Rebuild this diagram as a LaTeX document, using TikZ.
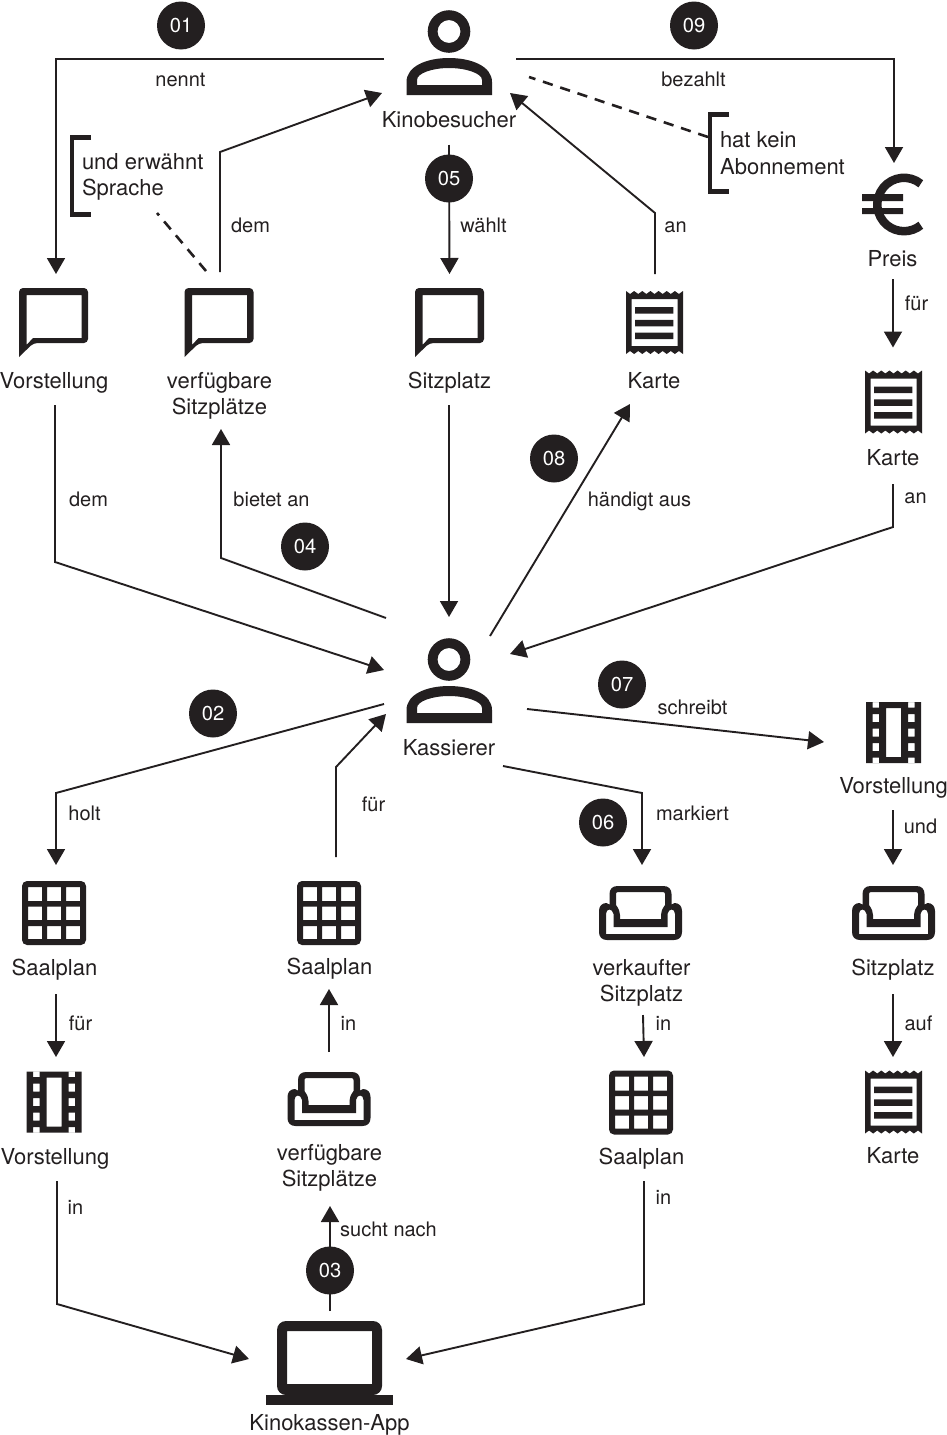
\documentclass[tikz,border=0pt]{standalone}
\usepackage{fontspec}
\setmainfont{TeX Gyre Heros}
\usetikzlibrary{arrows.meta}
\definecolor{ink}{HTML}{231F20}
\newcommand{\iconat}[4]{\node[hub] (#1) at (#2,#3) {}; \pic at (#1.center) {#4};}
\tikzset{
  x=1pt, y=-1pt,
  hub/.style={inner sep=0pt, outer sep=0pt, minimum size=0pt},
  name label/.style={inner sep=0pt, outer sep=0pt, anchor=base, text=ink, font=\fontsize{22}{26}\selectfont},
  two lines/.style={inner sep=0pt, outer sep=0pt, anchor=center, align=center, text=ink, font=\fontsize{22}{26}\selectfont},
  note text/.style={inner sep=0pt, outer sep=0pt, anchor=base west, text=ink, font=\fontsize{22}{26}\selectfont},
  edge label/.style={inner sep=0pt, outer sep=0pt, anchor=base, xshift=0.5pt, text=ink, font=\fontsize{20}{24}\selectfont},
  badge/.style={circle, fill=ink, text=white, minimum size=48pt, inner sep=0pt, yshift=-0.5pt, font=\fontsize{20.2}{24}\selectfont},
  link/.style={draw=ink, line width=1.9pt, line join=miter},
  arrowed/.style={link, -{Triangle[length=16pt,width=18pt]}},
  dashline/.style={draw=ink, line width=2.6pt, dash pattern=on 10.3pt off 7.9pt},
  pics/person/.style={code={
    \fill[ink, even odd rule] (0,-28.5) circle[radius=21.3pt] (0,-28.5) circle[radius=11.5pt];
    \fill[ink, even odd rule]
      (-42.5,35) -- (-42.5,22) .. controls (-42.5,6) and (-22,-2) .. (0,-2)
      .. controls (22,-2) and (43,6) .. (43,22) -- (43,35) -- cycle
      (-32,25) -- (-32,20) .. controls (-32,13) and (-16,8) .. (0,8)
      .. controls (16,8) and (33,13) .. (33,20) -- (33,25) -- cycle;
  }},
  pics/bubble/.style={code={
    \fill[ink, even odd rule]
      [rounded corners=4pt] (-34.5,35) -- (-34.5,-34) -- (34.5,-34) -- (34.5,21) -- (-20,21) [sharp corners] -- cycle
      [sharp corners] (-27,-27) -- (28,-27) -- (28,16) -- (-20.5,16) -- (-27,23) -- cycle;
  }},
  pics/receipt/.style={code={
    \fill[ink, even odd rule]
      (-28.5,-31.5) -- (-24.43,-28.5) -- (-20.36,-31.5) -- (-16.29,-28.5) -- (-12.21,-31.5) -- (-8.14,-28.5) -- (-4.07,-31.5) -- (0,-28.5)
      -- (4.07,-31.5) -- (8.14,-28.5) -- (12.21,-31.5) -- (16.29,-28.5) -- (20.36,-31.5) -- (24.43,-28.5) -- (28.5,-31.5)
      -- (28.5,31.5) -- (24.43,28.5) -- (20.36,31.5) -- (16.29,28.5) -- (12.21,31.5) -- (8.14,28.5) -- (4.07,31.5) -- (0,28.5)
      -- (-4.07,31.5) -- (-8.14,28.5) -- (-12.21,31.5) -- (-16.29,28.5) -- (-20.36,31.5) -- (-24.43,28.5) -- (-28.5,31.5) -- cycle
      (-23,-23.5) rectangle (23,23.5);
    \fill[ink] (-19.5,-15.5) rectangle (18.8,-9) (-19.5,-2.7) rectangle (18.8,3.8) (-19.5,10.2) rectangle (18.8,16.7);
  }},
  pics/euro/.style={code={
    \draw[ink, line width=8.5pt] (27.8,-20.75) arc[start angle=51, end angle=309, radius=26.7pt];
    \fill[ink] (-31,-10.5) rectangle (10,-3.5) (-31,3.5) rectangle (10,9.7);
  }},
  pics/film/.style={code={
    \fill[ink, even odd rule]
      (-27.5,-30.5) rectangle (27.5,30.5)
      (-7.5,-24.5) rectangle (7.5,24.5)
      (-21,-30.5) rectangle (-14.5,-25) (14.5,-30.5) rectangle (21,-25)
      (-21,-18.5) rectangle (-14.5,-10.5) (14.5,-18.5) rectangle (21,-10.5)
      (-21,-4) rectangle (-14.5,4) (14.5,-4) rectangle (21,4)
      (-21,10.5) rectangle (-14.5,18.5) (14.5,10.5) rectangle (21,18.5)
      (-21,25) rectangle (-14.5,30.5) (14.5,25) rectangle (21,30.5);
  }},
  pics/sofa/.style={code={
    \fill[ink, even odd rule]
      (-31,-8.5) -- (-31,-19) .. controls (-31,-24) and (-28,-27) .. (-23,-27)
      -- (23,-27) .. controls (28,-27) and (31,-24) .. (31,-19) -- (31,-8.5)
      .. controls (32,-9.5) and (33,-10) .. (34,-10) .. controls (38.5,-10) and (41.5,-7) .. (41.5,-2)
      -- (41.5,19) .. controls (41.5,24) and (38.5,27) .. (33.5,27)
      -- (-33.5,27) .. controls (-38.5,27) and (-41.5,24) .. (-41.5,19)
      -- (-41.5,-2) .. controls (-41.5,-7) and (-38.5,-10) .. (-34,-10)
      .. controls (-33,-10) and (-32,-9.5) .. (-31,-8.5) -- cycle
      (-22.5,-21) -- (22.5,-21) .. controls (24,-21) and (24.5,-20) .. (24.5,-19) -- (24.5,-8)
      .. controls (21.5,-4) and (20.5,-1) .. (20.5,2) -- (20.5,6) -- (-20.5,6) -- (-20.5,2)
      .. controls (-20.5,-1) and (-21.5,-4) .. (-24.5,-8) -- (-24.5,-19)
      .. controls (-24.5,-20) and (-24,-21) .. (-22.5,-21) -- cycle
      (-34.5,21) -- (34.5,21) -- (34.5,1) .. controls (34.5,-5) and (28,-5) .. (27,1)
      -- (27,14) -- (-27,14) -- (-27,1) .. controls (-28,-5) and (-34.5,-5) .. (-34.5,1) -- cycle;
  }},
  pics/grid/.style={code={
    \fill[ink, even odd rule]
      [rounded corners=5pt] (-32,-32) rectangle (32,32) [sharp corners]
      (-26,-26) rectangle (-12,-12) (-7,-26) rectangle (7,-12) (12,-26) rectangle (26,-12)
      (-26,-6.5) rectangle (-12,7) (-7,-6.5) rectangle (7,7) (12,-6.5) rectangle (26,7)
      (-26,13) rectangle (-12,26) (-7,13) rectangle (7,26) (12,13) rectangle (26,26);
  }},
  pics/laptop/.style={code={
    \fill[ink, even odd rule]
      [rounded corners=9pt] (-52.5,32) -- (-52.5,-42) -- (52.5,-42) -- (52.5,32) -- cycle [sharp corners]
      (-42.5,-32) rectangle (42.5,21);
    \fill[ink] (-63.5,32) rectangle (63.5,42);
  }},
  pics/bracket/.style={code={
    \draw[ink, line width=4.5pt, line cap=butt] (18.8,-38.7) -- (0,-38.7) -- (0,38.7) -- (18.8,38.7);
  }},
}
\begin{document}
\begin{tikzpicture}
\useasboundingbox (0,0) rectangle (947,1435);

% actors and the system
\iconat{visitor}{449}{60}{person}
\iconat{cashier}{449}{688}{person}
\iconat{app}{329.5}{1363}{laptop}

% notes in square brackets
\iconat{noteA}{710.2}{153}{bracket}
\iconat{noteB}{72.2}{176}{bracket}

% upper row
\iconat{sayShow}{53.5}{322}{bubble}
\iconat{saySeats}{219}{322}{bubble}
\iconat{saySeat}{449.5}{322}{bubble}
\iconat{ticketA}{654.5}{322.5}{receipt}
\iconat{price}{893}{204.5}{euro}
\iconat{ticketB}{893.5}{402}{receipt}

% lower rows
\iconat{planA}{54}{913}{grid}
\iconat{showA}{54}{1102}{film}
\iconat{planB}{329}{913}{grid}
\iconat{sofaB}{329}{1099}{sofa}
\iconat{sofaC}{640.5}{913}{sofa}
\iconat{planC}{641}{1102.5}{grid}
\iconat{showD}{893.5}{732.5}{film}
\iconat{sofaD}{893.5}{913}{sofa}
\iconat{ticketD}{893.5}{1102}{receipt}

% names under the icons
\node[name label] (lVisitor) at (449,127) {Kinobesucher};
\node[name label] (lCashier) at (449,755) {Kassierer};
\node[name label] (lApp) at (329.5,1430) {Kinokassen-App};
\node[name label] (lShow1) at (54,388) {Vorstellung};
\node[two lines] (lSeats1) at (219.5,396) {verfügbare\\Sitzplätze};
\node[name label] (lSeat1) at (449.5,388) {Sitzplatz};
\node[name label] (lTicket1) at (654,388) {Karte};
\node[name label] (lPrice) at (892.5,266) {Preis};
\node[name label] (lTicket2) at (893,465) {Karte};
\node[name label] (lPlan1) at (54.5,975) {Saalplan};
\node[name label] (lShow2) at (55,1164) {Vorstellung};
\node[name label] (lPlan2) at (329.5,974) {Saalplan};
\node[two lines] (lSeats2) at (329.5,1168) {verfügbare\\Sitzplätze};
\node[two lines] (lSold) at (641.5,983) {verkaufter\\Sitzplatz};
\node[name label] (lPlan3) at (641.5,1164) {Saalplan};
\node[name label] (lShow3) at (893.5,793) {Vorstellung};
\node[name label] (lSeat2) at (893,975) {Sitzplatz};
\node[name label] (lTicket3) at (893,1163) {Karte};

% note texts
\node[note text] (tNoteA1) at (720,147) {hat kein};
\node[note text] (tNoteA2) at (720,174) {Abonnement};
\node[note text] (tNoteB1) at (82,169) {und erwähnt};
\node[note text] (tNoteB2) at (82,195) {Sprache};

% connectors
\draw[arrowed] ([shift={(-65,-1)}]visitor.center) -- (56,59) -- ([shift={(2.5,-48)}]sayShow.center);
\draw[arrowed] ([shift={(67,-1)}]visitor.center) -- (894,59) -- ([shift={(1,-41.5)}]price.center);
\draw[dashline] ([shift={(-2.2,-16)}]noteA.center) -- ([shift={(80,17)}]visitor.center);
\draw[dashline] ([shift={(-13,-51)}]saySeats.center) -- ([shift={(84.8,37)}]noteB.center);
\draw[arrowed] ([shift={(1,-50)}]saySeats.center) -- (220,152) -- ([shift={(-67,33)}]visitor.center);
\draw[arrowed] ([shift={(0,85)}]visitor.center) -- ([shift={(0,-48)}]saySeat.center);
\draw[arrowed] ([shift={(0.5,-48.5)}]ticketA.center) -- (655,213) -- ([shift={(61,33)}]visitor.center);
\draw[arrowed] ([shift={(0,74.5)}]price.center) -- ([shift={(-0.5,-54.5)}]ticketB.center);
\draw[arrowed] ([shift={(1.5,83)}]sayShow.center) -- (55,562) -- ([shift={(-65,-18)}]cashier.center);
\draw[arrowed] ([shift={(-63,-70)}]cashier.center) -- (221,558) -- ([shift={(2,107)}]saySeats.center);
\draw[arrowed] ([shift={(-0.5,83)}]saySeat.center) -- ([shift={(0,-71)}]cashier.center);
\draw[arrowed] ([shift={(41,-52)}]cashier.center) -- ([shift={(-24.5,81.5)}]ticketA.center);
\draw[arrowed] ([shift={(-0.5,82)}]ticketB.center) -- (893,527) -- ([shift={(61,-34)}]cashier.center);
\draw[arrowed] ([shift={(78,21)}]cashier.center) -- ([shift={(-69.5,9.5)}]showD.center);
\draw[arrowed] ([shift={(-65,16)}]cashier.center) -- (56,793) -- ([shift={(2,-48)}]planA.center);
\draw[arrowed] ([shift={(7,-56)}]planB.center) -- (336,767) -- ([shift={(-63,26)}]cashier.center);
\draw[arrowed] ([shift={(54,78)}]cashier.center) -- (642,793) -- ([shift={(1.5,-48)}]sofaC.center);
\draw[arrowed] ([shift={(-0.5,77.5)}]showD.center) -- ([shift={(-0.5,-48)}]sofaD.center);
\draw[arrowed] ([shift={(2,81)}]planA.center) -- ([shift={(2,-45)}]showA.center);
\draw[arrowed] ([shift={(0,-47)}]sofaB.center) -- ([shift={(0,76)}]planB.center);
\draw[arrowed] ([shift={(2.5,102)}]sofaC.center) -- ([shift={(3,-45.5)}]planC.center);
\draw[arrowed] ([shift={(-0.5,81)}]sofaD.center) -- ([shift={(-0.5,-45)}]ticketD.center);
\draw[arrowed] ([shift={(3,79)}]showA.center) -- (57,1304) -- ([shift={(-80.5,-4)}]app.center);
\draw[arrowed] ([shift={(0.5,-52)}]app.center) -- ([shift={(1,107)}]sofaB.center);
\draw[arrowed] ([shift={(3,78.5)}]planC.center) -- (644,1304) -- ([shift={(76.5,-4)}]app.center);

% words along the connectors
\node[edge label] at (180,86) {nennt};
\node[edge label] at (693,86) {bezahlt};
\node[edge label] at (250,232) {dem};
\node[edge label] at (483,232) {wählt};
\node[edge label] at (675,232) {an};
\node[edge label] at (916,310) {für};
\node[edge label] at (88,506) {dem};
\node[edge label] at (271,506) {bietet an};
\node[edge label] at (639,506) {händigt aus};
\node[edge label] at (915,503) {an};
\node[edge label] at (692,714) {schreibt};
\node[edge label] at (84,820) {holt};
\node[edge label] at (373,811) {für};
\node[edge label] at (692,820) {markiert};
\node[edge label] at (920,833) {und};
\node[edge label] at (80,1030) {für};
\node[edge label] at (348,1030) {in};
\node[edge label] at (663,1030) {in};
\node[edge label] at (918,1030) {auf};
\node[edge label] at (75,1214) {in};
\node[edge label] at (388,1236) {sucht nach};
\node[edge label] at (663,1204) {in};

% numbered steps
\node[badge] (b01) at (181,25) {01};
\node[badge] (b09) at (694,25) {09};
\node[badge] (b05) at (449,178) {05};
\node[badge] (b08) at (554,458) {08};
\node[badge] (b04) at (305,546) {04};
\node[badge] (b07) at (622,684) {07};
\node[badge] (b02) at (213,713) {02};
\node[badge] (b06) at (603,822) {06};
\node[badge] (b03) at (330,1270) {03};
\end{tikzpicture}
\end{document}
